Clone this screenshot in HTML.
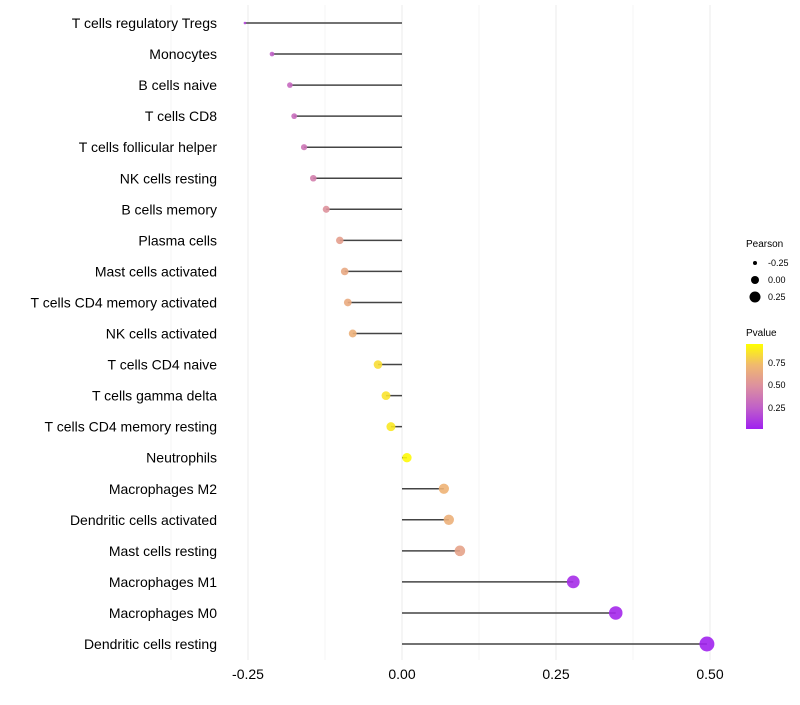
<!DOCTYPE html>
<html><head><meta charset="utf-8"><style>
body{margin:0;background:#fff;font-family:"Liberation Sans",sans-serif}
</style></head><body>
<svg id="chart" width="800" height="700" xmlns="http://www.w3.org/2000/svg">
<defs><linearGradient id="pg" x1="0" y1="1" x2="0" y2="0">
<stop offset="0" stop-color="#a020f0"/><stop offset="0.25" stop-color="#c060c8"/><stop offset="0.5" stop-color="#dc8fa0"/><stop offset="0.75" stop-color="#f0b870"/><stop offset="1" stop-color="#ffff00"/></linearGradient></defs>
<g id="grid"></g><g id="marks"></g><g id="labels"></g>
<g font-size="10">
<text x="746" y="247">Pearson</text>
<circle cx="755" cy="263" r="2" fill="#000"/>
<text x="768" y="266" font-size="9">-0.25</text>
<circle cx="755" cy="280" r="4" fill="#000"/>
<text x="768" y="283" font-size="9">0.00</text>
<circle cx="755" cy="297" r="5.5" fill="#000"/>
<text x="768" y="300" font-size="9">0.25</text>
<text x="746" y="336">Pvalue</text>
<rect x="746" y="344" width="17" height="85" fill="url(#pg)"/>
<text x="768" y="366" font-size="9">0.75</text>
<text x="768" y="388" font-size="9">0.50</text>
<text x="768" y="411" font-size="9">0.25</text>
</g>
</svg>
<script>
const cells=["T cells regulatory  Tregs","Monocytes","B cells naive","T cells CD8","T cells follicular helper","NK cells resting","B cells memory","Plasma cells","Mast cells activated","T cells CD4 memory activated","NK cells activated","T cells CD4 naive","T cells gamma delta","T cells CD4 memory resting","Neutrophils","Macrophages M2","Dendritic cells activated","Mast cells resting","Macrophages M1","Macrophages M0","Dendritic cells resting"];
const pearson=[-0.255,-0.211,-0.182,-0.175,-0.159,-0.144,-0.123,-0.101,-0.093,-0.088,-0.080,-0.039,-0.026,-0.018,0.008,0.068,0.076,0.094,0.278,0.347,0.495];
const pvalue=[0.15,0.25,0.3,0.32,0.36,0.42,0.52,0.6,0.65,0.67,0.7,0.88,0.9,0.92,0.98,0.72,0.7,0.62,0.05,0.03,0.01];
const ticks=[-0.25,0,0.25,0.5];
const tickLabels=["-0.25","0.00","0.25","0.50"];
const NS="http://www.w3.org/2000/svg";
const xs=v=>402+v*616;
const ys=i=>23+i*31.05;
function mk(t,a,p){const e=document.createElementNS(NS,t);for(const k in a)e.setAttribute(k,a[k]);document.getElementById(p).appendChild(e);return e;}
function col(p){const st=[[0,[160,32,240]],[0.25,[192,96,200]],[0.5,[220,143,160]],[0.75,[240,184,112]],[1,[255,255,0]]];
for(let i=0;i<st.length-1;i++){if(p<=st[i+1][0]){const t=(p-st[i][0])/(st[i+1][0]-st[i][0]);const c=st[i][1].map((v,j)=>Math.round(v+t*(st[i+1][1][j]-v)));return `rgb(${c})`;}}return "rgb(255,255,0)";}
for(let v=-0.375;v<=0.55;v+=0.125){const g=mk("line",{x1:xs(v),x2:xs(v),y1:5,y2:660,stroke:"#ebebeb","stroke-width":Math.abs(v*4-Math.round(v*4))<1e-6?1:0.5},"grid");

}
ticks.forEach((t,i)=>{const e=mk("text",{x:xs(t),y:679,"text-anchor":"middle","font-size":14,fill:"#000"},"labels");e.textContent=tickLabels[i];

});
cells.forEach((c,i)=>{const y=ys(i);
const l=mk("line",{x1:xs(0),x2:xs(pearson[i]),y1:y,y2:y,stroke:"#444","stroke-width":1.5},"marks");


const r=0.5+8*Math.sqrt(Math.max(0,pearson[i]+0.265));
const d=mk("circle",{cx:xs(pearson[i]),cy:y,r:r,fill:col(pvalue[i]),"fill-opacity":0.9},"marks");


const t=mk("text",{x:217,y:y+5,"text-anchor":"end","font-size":14,fill:"#000"},"labels");t.textContent=c;

});
</script>
</body></html>
